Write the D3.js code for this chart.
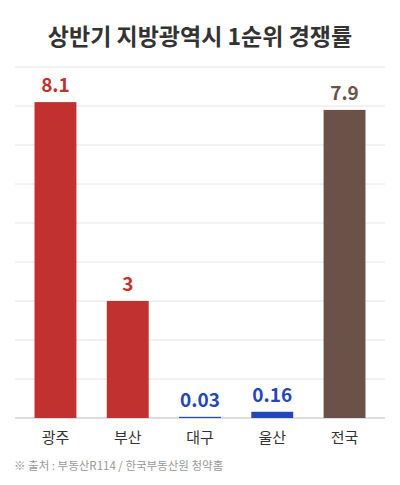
<!DOCTYPE html>
<html><head><meta charset="utf-8">
<script src="https://cdn.jsdelivr.net/npm/d3@7"></script>
<style>body{margin:0;background:#fff}</style></head>
<body><svg id="c" width="400" height="485"></svg>
<script>
const categories=["광주","부산","대구","울산","전국"];
const values=[8.1,3,0.03,0.16,7.9];
const labels=["8.1","3","0.03","0.16","7.9"];
const colors=["#c1312f","#c1312f","#2447b8","#2447b8","#6a5249"];
const ticks=[0,1,2,3,4,5,6,7,8,9];
const svg=d3.select("#c");
const F="'Noto Sans CJK KR', sans-serif";
const x=d3.scaleBand().domain(categories).range([15,385]).paddingInner(0.42).paddingOuter(0.27);
const y=d3.scaleLinear().domain([0,9]).range([418,67]);
svg.append("text").attr("x",200).attr("y",45).attr("text-anchor","middle").attr("font-family",F)
 .attr("font-weight",700).attr("font-size",23).attr("fill","#333").text("상반기 지방광역시 1순위 경쟁률");
svg.append("g").selectAll("line").data(ticks).join("line").attr("x1",15).attr("x2",385)
 .attr("y1",d=>y(d)).attr("y2",d=>y(d)).attr("stroke",d=>d===0?"#bbb":"#e6e6e6").attr("stroke-width",1);
svg.append("g").selectAll("rect").data(values).join("rect").attr("x",(d,i)=>x(categories[i]))
 .attr("width",x.bandwidth()).attr("y",d=>y(d)).attr("height",d=>Math.max(418-y(d),0.8)).attr("fill",(d,i)=>colors[i]);
svg.append("g").selectAll("text").data(values).join("text").attr("x",(d,i)=>x(categories[i])+x.bandwidth()/2)
 .attr("y",d=>y(d)-10).attr("text-anchor","middle").attr("font-family",F).attr("font-weight",700)
 .attr("font-size",19).attr("fill",(d,i)=>colors[i]).text((d,i)=>labels[i]);
svg.append("g").selectAll("text").data(categories).join("text").attr("x",d=>x(d)+x.bandwidth()/2)
 .attr("y",443).attr("text-anchor","middle").attr("font-family",F).attr("font-size",15).attr("fill","#333").text(d=>d);
svg.append("text").attr("x",14).attr("y",470).attr("font-family",F).attr("font-size",11.5).attr("fill","#999")
 .text("※ 출처 : 부동산R114 / 한국부동산원 청약홈");
</script></body></html>
